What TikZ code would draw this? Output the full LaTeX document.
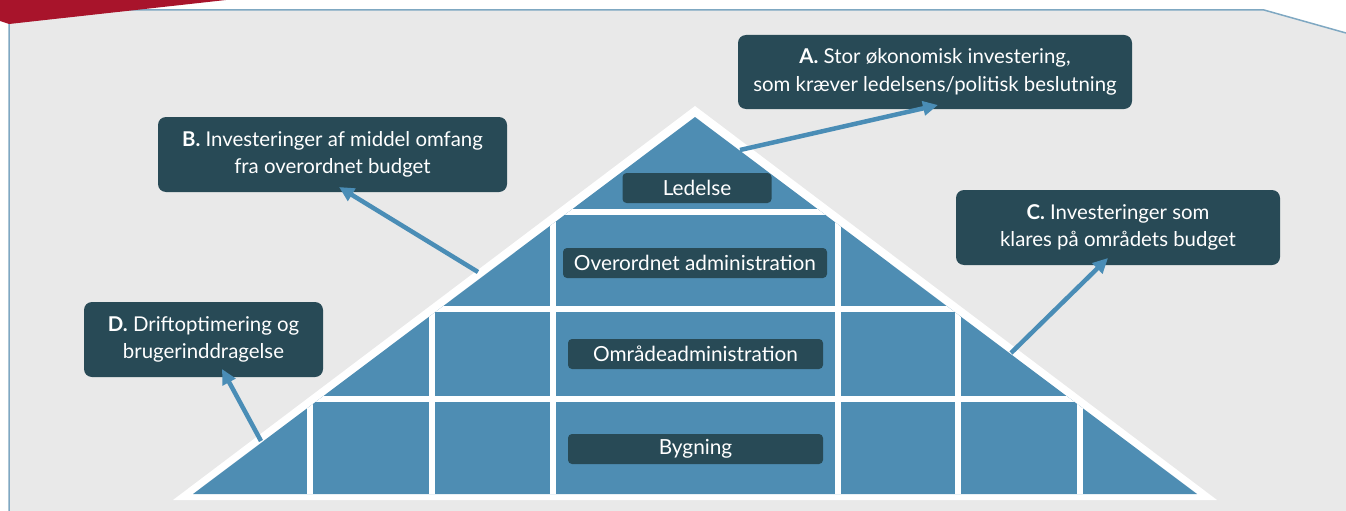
\documentclass[tikz,border=0pt]{standalone}
\usepackage{fontspec}
\setmainfont{Lato}
\usetikzlibrary{arrows.meta}
\definecolor{bg}{HTML}{E9E9E9}
\definecolor{frame}{HTML}{7FA8C2}
\definecolor{redc}{HTML}{A8142B}
\definecolor{pyr}{HTML}{4E8DB3}
\definecolor{dark}{HTML}{284A56}
\definecolor{arr}{HTML}{4A8DB6}
\begin{document}
\begin{tikzpicture}[x=1pt,y=-1pt,
 infobox/.style={fill=dark, text=white, rounded corners=8pt, align=center, inner sep=0pt, minimum height=75pt, font=\fontsize{20.4}{27.5}\selectfont},
 lvl/.style={fill=dark, text=white, rounded corners=4pt, inner sep=0pt, minimum height=30pt, font=\fontsize{20.8}{24}\selectfont},
 pointer/.style={draw=arr, line width=4.5pt, -{Triangle[length=15pt,width=14pt]}},
 gridline/.style={draw=white, line width=6pt}]
\useasboundingbox (0,0) rectangle (1346,511);
% panel
\fill[bg] (9,511) -- (9,10) -- (1264,10) -- (1346,33) -- (1346,511) -- cycle;
\draw[frame, line width=1.5pt] (9,511) -- (9,10) -- (1264,10) -- (1346,33);
\fill[redc] (0,0) -- (226,0) -- (9,24) -- (0,21) -- cycle;
% pyramid
\fill[white] (173,500) -- (695,106) -- (1217,500) -- cycle;
\begin{scope}
\clip (193,494) -- (695,117) -- (1197,494) -- cycle;
\fill[pyr] (150,100) rectangle (1250,500);
\draw[gridline] (150,212) -- (1250,212);
\draw[gridline] (150,309) -- (1250,309);
\draw[gridline] (150,399) -- (1250,399);
\draw[gridline] (553,212) -- (553,500);
\draw[gridline] (838,212) -- (838,500);
\draw[gridline] (432,309) -- (432,500);
\draw[gridline] (958,309) -- (958,500);
\draw[gridline] (310,399) -- (310,500);
\draw[gridline] (1080,399) -- (1080,500);
\end{scope}
% level labels
\node[lvl, minimum width=149pt] (led) at (697,188) {Ledelse};
\node[lvl, minimum width=264pt] (ova) at (695,263) {Overordnet administration};
\node[lvl, minimum width=255pt] (oma) at (695.5,354) {Områdeadministration};
\node[lvl, minimum width=255pt] (byg) at (695.5,449) {Bygning};
% info boxes
\node[infobox, minimum width=394pt, minimum height=74pt] (A) at (935,72) {\textbf{A.} Stor økonomisk investering,\\som kræver ledelsens/politisk beslutning};
\node[infobox, minimum width=349pt] (B) at (332.5,154.5) {\textbf{B.} Investeringer af middel omfang\\fra overordnet budget};
\node[infobox, minimum width=324pt] (C) at (1118,227.5) {\textbf{C.} Investeringer som\\klares på områdets budget};
\node[infobox, minimum width=239pt] (D) at (203.5,339.5) {\textbf{D.} Driftoptimering og\\brugerinddragelse};
% arrows
\coordinate (sA) at (740,150); \coordinate (tA) at (938,105);
\coordinate (sB) at (478,272); \coordinate (tB) at (339,187);
\coordinate (sC) at (1011,353); \coordinate (tC) at (1108,258);
\coordinate (sD) at (261,441); \coordinate (tD) at (222,369);
\draw[pointer] (sA) -- (tA);
\draw[pointer] (sB) -- (tB);
\draw[pointer] (sC) -- (tC);
\draw[pointer] (sD) -- (tD);
\end{tikzpicture}
\end{document}
